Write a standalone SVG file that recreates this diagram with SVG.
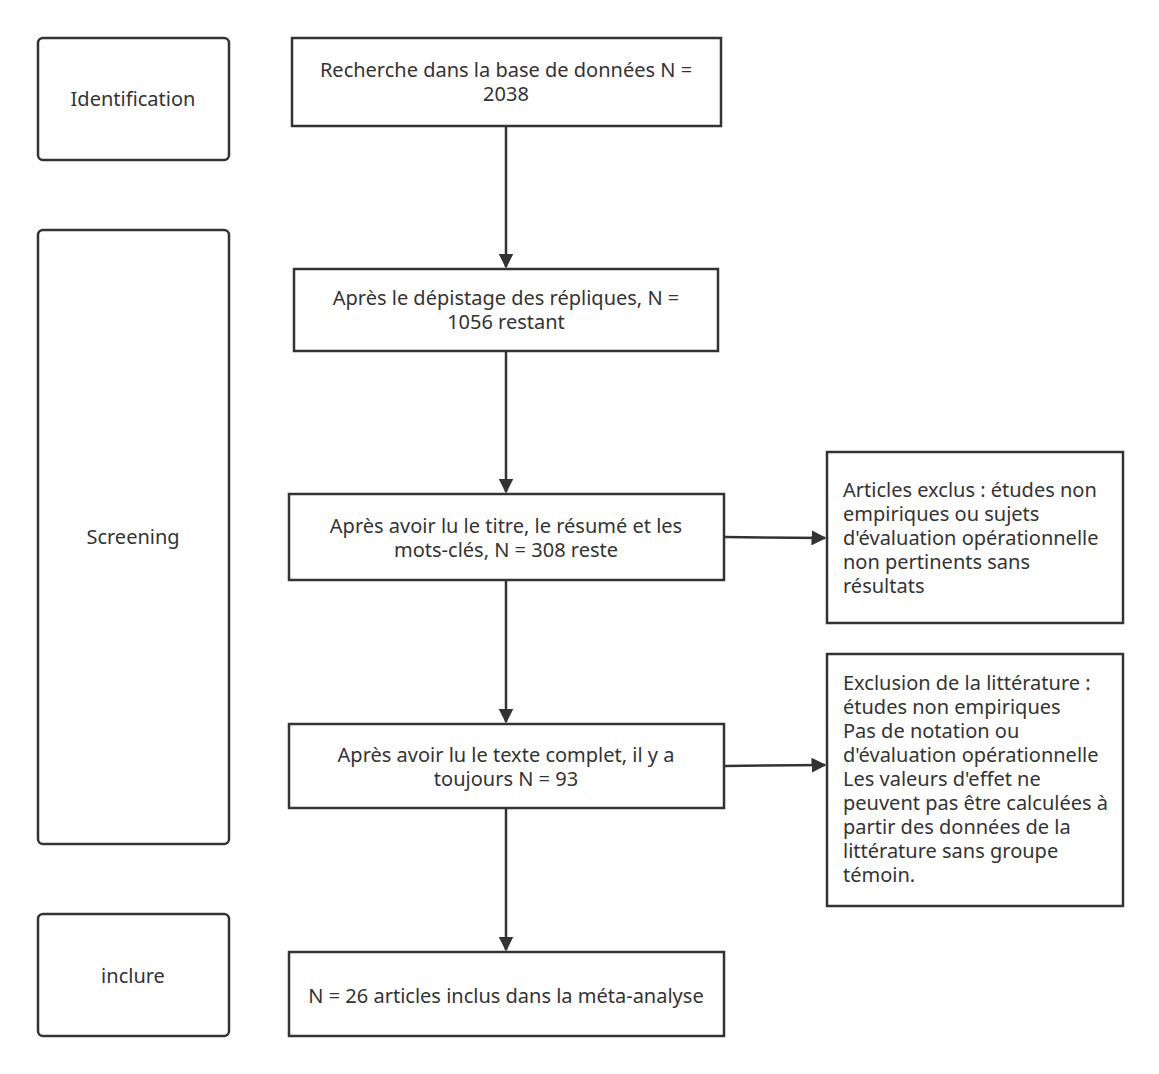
<svg xmlns="http://www.w3.org/2000/svg" width="1159" height="1074" viewBox="0 0 1159 1074">
<defs>
<style>
.b{fill:#fff;stroke:#333;stroke-width:2.5}
.t{font-family:"Noto Sans","Open Sans",sans-serif;font-size:20px;fill:#333}
.c{text-anchor:middle}
.l{stroke:#333;stroke-width:2.5;fill:none}
</style>
<marker id="a" viewBox="0 0 10 10" refX="9" refY="5" markerWidth="6" markerHeight="6" orient="auto" markerUnits="strokeWidth"><path d="M0,0L10,5L0,10z" fill="#333"/></marker>
</defs>
<rect width="1159" height="1074" fill="#fff"/>
<g id="identification"><rect class="b" x="38" y="38" width="191" height="122" rx="5"/><text class="t c" x="133" y="106">Identification</text></g>
<g id="screening"><rect class="b" x="38" y="230" width="191" height="614" rx="5"/><text class="t c" x="133" y="544">Screening</text></g>
<g id="inclure"><rect class="b" x="38" y="914" width="191" height="122" rx="5"/><text class="t c" x="133" y="983">inclure</text></g>
<g id="b1"><rect class="b" x="292" y="38" width="429" height="88"/><text class="t c" x="506" y="77">Recherche dans la base de données N =</text><text class="t c" x="506" y="101">2038</text></g>
<g id="b2"><rect class="b" x="294" y="269" width="424" height="82"/><text class="t c" x="506" y="305">Après le dépistage des répliques, N =</text><text class="t c" x="506" y="329">1056 restant</text></g>
<g id="b3"><rect class="b" x="289" y="494" width="435" height="86"/><text class="t c" x="506" y="533">Après avoir lu le titre, le résumé et les</text><text class="t c" x="506" y="557">mots-clés, N = 308 reste</text></g>
<g id="b4"><rect class="b" x="289" y="724" width="435" height="84"/><text class="t c" x="506" y="762">Après avoir lu le texte complet, il y a</text><text class="t c" x="506" y="786">toujours N = 93</text></g>
<g id="b5"><rect class="b" x="289" y="952" width="435" height="84"/><text class="t c" x="506" y="1003">N = 26 articles inclus dans la méta-analyse</text></g>
<g id="r1"><rect class="b" x="827" y="452" width="296" height="171"/>
<text class="t" x="843" y="497">Articles exclus : études non</text><text class="t" x="843" y="521">empiriques ou sujets</text><text class="t" x="843" y="545">d'évaluation opérationnelle</text><text class="t" x="843" y="569">non pertinents sans</text><text class="t" x="843" y="593">résultats</text></g>
<g id="r2"><rect class="b" x="827" y="654" width="296" height="252"/>
<text class="t" x="843" y="690">Exclusion de la littérature :</text><text class="t" x="843" y="714">études non empiriques</text><text class="t" x="843" y="738">Pas de notation ou</text><text class="t" x="843" y="762">d'évaluation opérationnelle</text><text class="t" x="843" y="786">Les valeurs d'effet ne</text><text class="t" x="843" y="810">peuvent pas être calculées à</text><text class="t" x="843" y="834">partir des données de la</text><text class="t" x="843" y="858">littérature sans groupe</text><text class="t" x="843" y="882">témoin.</text></g>
<g id="connectors">
<path class="l" d="M506,126V267" marker-end="url(#a)"/>
<path class="l" d="M506,351V492" marker-end="url(#a)"/>
<path class="l" d="M506,580V722" marker-end="url(#a)"/>
<path class="l" d="M506,808V950" marker-end="url(#a)"/>
<path class="l" d="M724,537L825,538" marker-end="url(#a)"/>
<path class="l" d="M724,766L825,765" marker-end="url(#a)"/>
</g>
</svg>
